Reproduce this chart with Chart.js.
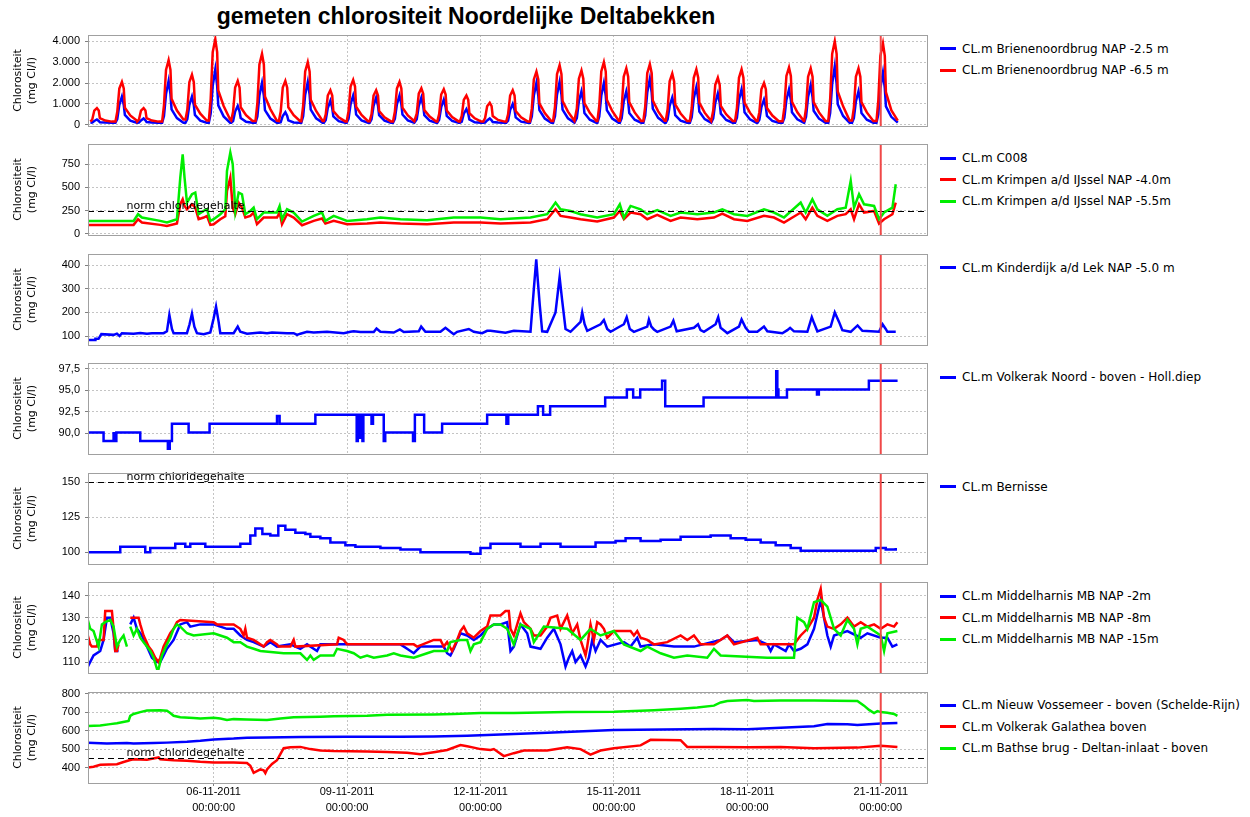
<!DOCTYPE html>
<html>
<head>
<meta charset="utf-8">
<title>gemeten chlorositeit Noordelijke Deltabekken</title>
<script src="https://cdn.jsdelivr.net/npm/chart.js@4.4.1/dist/chart.umd.min.js"></script>
<style>
  html, body { margin: 0; padding: 0; background: #fff; }
  body { width: 1250px; height: 817px; position: relative; overflow: hidden;
         font-family: "DejaVu Sans", sans-serif; color: #000; }
  #title { position: absolute; left: 0; top: 3px; width: 932px; text-align: center;
           font: bold 23px "Liberation Sans", Arial, sans-serif; }
  canvas.panel { position: absolute; left: 0; }
  .legend { position: absolute; left: 940px; font: 12px "DejaVu Sans", sans-serif; }
  .legend .item { height: 21.5px; white-space: nowrap; display: flex; align-items: center; }
  .legend .sw { display: inline-block; width: 16px; height: 3px; margin-right: 6px; }
</style>
</head>
<body>
<div id="title">gemeten chlorositeit Noordelijke Deltabekken</div>

<script>
// ---------- time axis: hours since 03-11-2011 00:00 ----------
const xMinHour = 4.2;
const xMaxHour = 456.7;
const xTickHours = [72, 144, 216, 288, 360, 432];
const xTickDates = ['06-11-2011', '09-11-2011', '12-11-2011', '15-11-2011', '18-11-2011', '21-11-2011'];
const xTickTimes = ['00:00:00', '00:00:00', '00:00:00', '00:00:00', '00:00:00', '00:00:00'];
const nowHour = 432;

// ---------- Brienenoordbrug: one row per tide, [peak hour, values at the tide offsets] ----------
const tideOffsets = [-3.5, -2.5, -1.4, 0, 1.0, 1.6, 4.5, 8];
const brienenoord25Tides = [
  [9.0, 100, 110, 180, 250, 180, 120, 105, 100],
  [22.5, 100, 270, 950, 1350, 950, 470, 200, 100],
  [34.2, 100, 110, 210, 300, 210, 130, 105, 100],
  [47.7, 100, 420, 1470, 2100, 1470, 740, 320, 100],
  [60.3, 100, 270, 950, 1350, 950, 470, 200, 100],
  [72.9, 100, 530, 1860, 2650, 1860, 930, 400, 100],
  [85.0, 100, 180, 630, 900, 630, 320, 140, 100],
  [98.1, 100, 400, 1400, 2000, 1400, 700, 300, 100],
  [110.7, 100, 120, 420, 600, 420, 210, 110, 100],
  [122.8, 100, 410, 1440, 2050, 1440, 720, 310, 100],
  [135.0, 100, 230, 800, 1150, 800, 400, 170, 100],
  [147.3, 100, 280, 980, 1400, 980, 490, 210, 100],
  [159.7, 100, 260, 910, 1300, 910, 460, 200, 100],
  [172.3, 100, 280, 980, 1400, 980, 490, 210, 100],
  [184.1, 100, 260, 910, 1300, 910, 460, 200, 100],
  [196.2, 100, 240, 840, 1200, 840, 420, 180, 100],
  [208.4, 100, 150, 530, 750, 530, 260, 120, 100],
  [221.0, 100, 110, 210, 300, 210, 130, 105, 100],
  [233.4, 100, 200, 700, 1000, 700, 350, 150, 100],
  [246.2, 100, 400, 1400, 2000, 1400, 700, 300, 100],
  [258.7, 100, 410, 1440, 2050, 1440, 720, 310, 100],
  [270.5, 100, 320, 1120, 1600, 1120, 560, 240, 100],
  [282.6, 100, 400, 1400, 2000, 1400, 700, 300, 100],
  [294.7, 100, 320, 1120, 1600, 1120, 560, 240, 100],
  [307.4, 100, 440, 1540, 2200, 1540, 770, 330, 100],
  [319.5, 100, 260, 910, 1300, 910, 460, 200, 100],
  [332.5, 100, 360, 1260, 1800, 1260, 630, 270, 100],
  [344.1, 100, 300, 1050, 1500, 1050, 530, 230, 100],
  [356.9, 100, 340, 1190, 1700, 1190, 600, 260, 100],
  [369.0, 100, 240, 840, 1200, 840, 420, 180, 100],
  [382.5, 100, 340, 1190, 1700, 1190, 600, 260, 100],
  [394.2, 100, 380, 1330, 1900, 1330, 670, 290, 100],
  [407.2, 100, 560, 1960, 2800, 1960, 980, 420, 100],
  [420.0, 100, 320, 1120, 1600, 1120, 560, 240, 100],
  [433.2, 100, 500, 1750, 2500, 1750, 880, 380, 100]
];
const brienenoord65Tides = [
  [9.0, 150, 250, 680, 800, 680, 320, 200, 150],
  [22.5, 150, 620, 1740, 2050, 1740, 820, 450, 200],
  [34.2, 150, 250, 680, 800, 680, 320, 200, 150],
  [47.7, 150, 930, 2630, 3100, 2630, 1240, 680, 250],
  [60.3, 250, 720, 2040, 2400, 2040, 960, 530, 200],
  [72.9, 200, 1230, 3480, 4100, 3480, 1640, 900, 250],
  [85.0, 200, 630, 1780, 2100, 1780, 840, 460, 180],
  [98.1, 180, 1020, 2890, 3400, 2890, 1360, 750, 200],
  [110.7, 180, 630, 1780, 2100, 1780, 840, 460, 170],
  [122.8, 170, 900, 2550, 3000, 2550, 1200, 660, 180],
  [135.0, 180, 500, 1400, 1650, 1400, 660, 360, 160],
  [147.3, 160, 650, 1830, 2150, 1830, 860, 470, 170],
  [159.7, 170, 500, 1400, 1650, 1400, 660, 360, 160],
  [172.3, 160, 620, 1740, 2050, 1740, 820, 450, 170],
  [184.1, 170, 530, 1490, 1750, 1490, 700, 390, 160],
  [196.2, 160, 510, 1450, 1700, 1450, 680, 370, 160],
  [208.4, 160, 420, 1190, 1400, 1190, 560, 310, 150],
  [221.0, 150, 320, 890, 1050, 890, 420, 230, 150],
  [233.4, 150, 500, 1400, 1650, 1400, 660, 360, 160],
  [246.2, 160, 770, 2170, 2550, 2170, 1020, 560, 180],
  [258.7, 180, 860, 2420, 2850, 2420, 1140, 630, 190],
  [270.5, 190, 780, 2210, 2600, 2210, 1040, 570, 180],
  [282.6, 180, 900, 2550, 3000, 2550, 1200, 660, 190],
  [294.7, 190, 810, 2300, 2700, 2300, 1080, 590, 180],
  [307.4, 180, 870, 2470, 2900, 2470, 1160, 640, 190],
  [319.5, 190, 740, 2080, 2450, 2080, 980, 540, 180],
  [332.5, 180, 800, 2250, 2650, 2250, 1060, 580, 180],
  [344.1, 180, 680, 1910, 2250, 1910, 900, 500, 180],
  [356.9, 180, 800, 2250, 2650, 2250, 1060, 580, 180],
  [369.0, 180, 600, 1700, 2000, 1700, 800, 440, 170],
  [382.5, 170, 830, 2340, 2750, 2340, 1100, 600, 180],
  [394.2, 180, 810, 2300, 2700, 2300, 1080, 590, 180],
  [407.2, 180, 1200, 3400, 4000, 3400, 1600, 880, 200],
  [420.0, 200, 810, 2300, 2700, 2300, 1080, 590, 180],
  [433.2, 180, 1170, 3300, 3900, 3300, 1560, 700, 200]
];

// ---------- Krimpen a/d IJssel, C008: [hour, mg Cl/l] ----------
const c008 = [];
const krimpen40 = [
  [4.2, 97], [28.8, 97], [31.2, 158], [33.3, 122], [43.2, 97], [46.8, 86], [52.2, 111], [54.0, 320],
  [55.3, 373], [56.3, 300], [57.6, 265], [60.3, 320], [62.1, 283], [63.9, 158], [66.6, 176], [68.4, 194],
  [70.2, 97], [72.0, 104], [75.6, 158], [78.3, 190], [79.2, 463], [81.0, 606], [82.3, 283], [83.7, 212],
  [85.5, 337], [87.3, 283], [89.1, 176], [91.8, 194], [93.6, 230], [95.4, 104], [99.0, 176], [106.2, 176],
  [107.6, 230], [108.9, 104], [111.6, 212], [115.2, 176], [119.7, 93], [126.0, 140], [130.5, 165], [132.3, 111],
  [136.8, 140], [144.0, 104], [154.8, 111], [162.0, 122], [172.8, 111], [187.2, 104], [201.6, 122], [216.0, 122],
  [226.8, 111], [243.0, 122], [252.0, 158], [256.5, 265], [259.2, 194], [264.6, 176], [270.0, 158], [279.0, 133],
  [288.0, 176], [291.2, 247], [293.4, 158], [297.0, 230], [302.4, 212], [306.0, 158], [311.4, 204], [318.6, 140],
  [324.0, 176], [333.0, 158], [342.0, 176], [346.5, 219], [352.8, 158], [360.0, 140], [369.0, 194], [374.4, 176],
  [379.8, 122], [388.8, 230], [391.5, 158], [395.1, 283], [397.8, 194], [403.2, 140], [408.6, 194], [413.1, 212],
  [415.8, 265], [417.6, 158], [420.3, 320], [423.0, 230], [428.4, 247], [431.1, 111], [433.8, 158], [438.3, 212],
  [440.1, 337]
];
const krimpen55 = [
  [4.2, 140], [28.8, 140], [31.2, 212], [33.3, 176], [43.2, 140], [46.8, 122], [52.2, 158], [54.0, 606],
  [55.3, 857], [56.3, 606], [57.6, 337], [60.3, 427], [62.1, 445], [63.9, 212], [66.6, 247], [68.4, 265],
  [70.2, 140], [72.0, 158], [75.6, 212], [78.3, 265], [79.2, 678], [81.0, 875], [82.3, 750], [83.7, 247],
  [85.5, 445], [87.3, 427], [89.1, 212], [91.8, 247], [93.6, 283], [95.4, 158], [99.0, 230], [106.2, 230],
  [107.6, 301], [108.9, 158], [111.6, 265], [115.2, 230], [119.7, 133], [126.0, 194], [130.5, 230], [132.3, 140],
  [136.8, 194], [144.0, 140], [154.8, 158], [162.0, 176], [172.8, 158], [187.2, 147], [201.6, 176], [216.0, 176],
  [226.8, 158], [243.0, 176], [252.0, 212], [256.5, 337], [259.2, 265], [264.6, 247], [270.0, 212], [279.0, 176],
  [288.0, 212], [291.2, 319], [293.4, 176], [297.0, 301], [302.4, 265], [306.0, 212], [311.4, 255], [318.6, 194],
  [324.0, 230], [333.0, 212], [342.0, 230], [346.5, 265], [352.8, 212], [360.0, 194], [369.0, 265], [374.4, 230],
  [379.8, 176], [388.8, 337], [391.5, 230], [395.1, 373], [397.8, 265], [403.2, 194], [408.6, 265], [413.1, 283],
  [415.8, 570], [417.6, 283], [420.3, 427], [423.0, 319], [428.4, 301], [431.1, 158], [433.8, 230], [438.3, 283],
  [440.1, 534]
];

// ---------- Kinderdijk a/d Lek NAP -5.0 m ----------
const kinderdijk = [
  [4.2, 83], [8.1, 83], [8.2, 88], [9.9, 88], [11.4, 108], [18.0, 105], [19.8, 110], [21.2, 100], [22.5, 112],
  [28.8, 110], [32.4, 113], [36.0, 110], [38.7, 112], [45.0, 112], [46.8, 120], [48.1, 190], [49.5, 130],
  [50.4, 112], [57.6, 112], [59.0, 150], [60.3, 195], [61.6, 140], [63.0, 112], [66.6, 108], [70.2, 115],
  [72.0, 175], [73.3, 225], [74.7, 160], [75.6, 112], [82.8, 112], [85.0, 140], [86.4, 118], [90.0, 110],
  [97.2, 115], [100.8, 112], [103.5, 115], [111.6, 112], [115.2, 112], [117.0, 105], [118.8, 110], [122.4, 118],
  [126.0, 115], [133.2, 118], [142.2, 112], [145.8, 118], [147.6, 120], [151.2, 117], [158.4, 117], [159.9, 132],
  [162.0, 118], [169.2, 115], [172.5, 128], [174.6, 117], [182.7, 120], [184.0, 140], [186.3, 118], [194.4, 118],
  [197.1, 135], [199.8, 118], [201.6, 108], [203.4, 118], [209.7, 130], [212.4, 118], [216.9, 112], [219.6, 122],
  [221.4, 122], [229.5, 114], [234.0, 122], [243.0, 118], [244.8, 300], [246.1, 425], [247.0, 330], [248.0, 230],
  [249.3, 120], [252.0, 118], [256.5, 200], [258.7, 350], [260.1, 250], [261.9, 130], [264.6, 118], [270.0, 160],
  [270.9, 200], [272.2, 150], [273.6, 122], [280.8, 150], [282.6, 168], [284.4, 130], [286.2, 118], [293.4, 150],
  [294.9, 180], [296.6, 130], [298.8, 118], [306.0, 140], [306.9, 170], [308.2, 140], [309.6, 128], [311.4, 118],
  [318.6, 140], [320.1, 165], [321.9, 120], [331.2, 135], [333.4, 150], [334.8, 125], [336.6, 118], [342.9, 150],
  [344.3, 180], [345.6, 135], [348.3, 118], [349.2, 112], [355.5, 140], [356.9, 170], [359.1, 135], [360.9, 118],
  [365.4, 118], [369.0, 140], [370.8, 120], [378.9, 112], [381.6, 125], [383.1, 135], [385.2, 120], [392.4, 118],
  [394.8, 180], [396.0, 155], [397.8, 120], [405.0, 140], [407.2, 200], [409.5, 160], [411.3, 125], [415.8, 118],
  [419.5, 145], [422.1, 122], [431.1, 118], [433.0, 150], [434.7, 130], [435.6, 118], [440.1, 118]
];

// ---------- Volkerak Noord - boven - Holl.diep (each level holds until the next hour listed) ----------
const volkerakNoord = [
  [4.2, 90.1], [12.6, 89.1], [18.0, 90.0], [18.5, 89.1], [19.5, 90.1], [32.4, 89.1], [47.3, 88.2], [48.3, 89.1],
  [49.5, 91.1], [58.5, 90.1], [69.8, 91.1], [106.2, 92.0], [107.6, 91.1], [126.9, 92.15], [149.2, 89.1], [149.8, 92.15],
  [150.9, 89.5], [151.4, 92.15], [152.3, 89.1], [152.8, 92.15], [157.2, 91.1], [158.0, 92.15], [163.8, 89.1], [164.6, 90.1],
  [179.6, 89.1], [180.6, 92.15], [185.6, 90.1], [195.3, 91.1], [219.6, 92.15], [230.0, 91.1], [231.0, 92.15], [247.0, 93.15],
  [249.8, 92.15], [253.6, 93.15], [283.3, 94.15], [295.0, 95.1], [298.4, 94.15], [302.2, 95.1], [314.0, 96.1], [315.7, 93.15],
  [336.4, 94.15], [375.6, 97.2], [376.2, 95.1], [376.8, 94.15], [381.4, 95.1], [397.6, 94.5], [398.6, 95.1], [425.6, 96.1],
  [441.1, 96.1]
];

// ---------- Bernisse ----------
const bernisse = [
  [4.3, 100], [20.5, 100], [21.6, 104], [32.4, 104], [35.1, 100], [37.8, 103], [48.6, 103], [51.3, 106],
  [56.7, 104], [59.4, 106], [67.5, 104], [86.4, 106], [91.8, 112], [94.5, 117], [98.3, 113], [102.6, 112],
  [106.9, 119], [110.7, 116], [116.1, 114], [121.5, 113], [124.2, 111], [129.6, 110], [135.0, 107], [143.1, 105],
  [148.5, 104], [162.0, 103], [172.8, 102], [183.6, 100], [199.8, 100], [210.6, 99], [216.0, 103], [221.4, 106],
  [232.2, 106], [237.6, 104], [248.4, 106], [259.2, 104], [270.0, 104], [278.1, 107], [288.9, 108], [294.3, 110],
  [302.4, 108], [313.2, 109], [324.0, 111], [332.1, 111], [340.2, 112], [351.0, 110], [359.1, 109], [367.2, 107],
  [375.3, 105], [383.4, 103], [388.8, 101], [399.6, 101], [421.2, 101], [429.3, 103], [434.7, 102], [440.1, 103]
];

// ---------- Middelharnis MB ----------
const middelharnis2 = [
  [4.1, 108], [7.2, 113], [10.8, 115], [12.6, 120], [14.4, 130], [16.2, 130], [18.0, 123], [18.9, 115], [20.7, 115],
  [21.5, null], [27.0, 127], [28.8, 130], [30.6, 125], [33.3, 122], [36.0, 117], [38.7, 112], [41.4, 110], [43.2, 110],
  [45.0, 113], [46.8, 116], [50.4, 120], [54.0, 127], [57.6, 128], [59.4, 126], [64.8, 127], [72.0, 127], [75.6, 126],
  [79.2, 125], [82.8, 125], [86.4, 122], [90.0, 120], [93.6, 119], [99.0, 117], [102.6, 119], [106.2, 117], [113.4, 118],
  [118.8, 116], [122.4, 118], [127.8, 115], [129.6, 118], [172.8, 118], [176.4, 116], [180.0, 114], [183.6, 117],
  [196.2, 117], [198.0, 114], [199.8, 113], [201.6, 116], [205.2, 123], [208.8, 122], [212.4, 120], [216.0, 122],
  [219.6, 125], [223.2, 127], [226.8, 127], [230.4, 128], [232.2, 115], [234.0, 117], [237.6, 127], [241.2, 123],
  [243.0, 117], [248.4, 116], [252.0, 121], [255.6, 125], [259.2, 118], [261.9, 108], [263.7, 112], [265.5, 115],
  [267.3, 110], [270.0, 113], [272.7, 108], [274.5, 112], [276.3, 120], [278.1, 115], [280.8, 120], [284.4, 117],
  [293.4, 119], [297.0, 117], [300.6, 121], [302.4, 117], [309.6, 118], [320.4, 117], [331.2, 117], [345.6, 120],
  [349.2, 122], [352.8, 119], [365.4, 120], [370.8, 118], [372.6, 115], [374.4, 118], [380.7, 115], [382.5, 118],
  [385.2, 115], [388.8, 116], [392.4, 118], [396.0, 125], [399.6, 138], [403.2, 122], [405.0, 117], [406.8, 122],
  [414.0, 124], [421.2, 121], [424.8, 123], [432.0, 121], [435.6, 121], [438.3, 117], [441.0, 118]
];
const middelharnis8 = [
  [4.1, 122], [5.4, 118], [6.3, 117], [9.0, 117], [9.9, 120], [12.6, 120], [13.5, 133], [17.1, 133], [18.0, 125],
  [18.9, 115], [19.8, 115], [20.7, 118], [21.5, null], [27.0, 130], [31.5, 130], [32.4, 127], [34.2, 122], [36.9, 117],
  [38.7, 115], [40.5, 112], [42.3, 110], [43.2, 112], [45.0, 117], [46.8, 120], [48.6, 123], [50.4, 125], [52.2, 128],
  [54.0, 129], [72.0, 128], [73.8, 127], [82.8, 127], [86.4, 125], [88.2, 122], [89.1, 125], [90.0, 121], [93.6, 120],
  [95.4, 119], [99.0, 117], [100.8, 119], [102.6, 120], [106.2, 118], [107.1, 117], [113.4, 117], [115.2, 120],
  [116.1, 117], [138.6, 118], [139.5, 121], [142.2, 120], [144.0, 118], [180.0, 118], [181.8, 117], [190.8, 120],
  [194.4, 120], [196.2, 117], [198.0, 119], [200.7, 115], [203.4, 120], [205.2, 124], [207.0, 126], [208.8, 123],
  [212.4, 121], [216.0, 124], [219.6, 126], [221.4, 131], [226.8, 131], [229.5, 133], [231.3, 133], [232.2, 125],
  [234.0, 122], [237.6, 132], [239.4, 128], [243.0, 125], [244.8, 122], [248.4, 122], [252.0, 126], [253.8, 130],
  [257.4, 131], [259.2, 125], [262.8, 131], [265.5, 123], [268.2, 127], [270.0, 120], [272.7, 113], [273.6, 117],
  [275.4, 127], [277.2, 120], [279.0, 128], [280.8, 127], [282.6, 125], [284.4, 121], [288.0, 124], [297.0, 124],
  [298.8, 122], [300.6, 124], [302.4, 121], [306.0, 120], [309.6, 118], [316.8, 119], [324.0, 122], [327.6, 120],
  [331.2, 122], [334.8, 118], [342.0, 118], [349.2, 122], [351.0, 120], [352.8, 118], [365.4, 121], [367.2, 118],
  [385.2, 118], [388.8, 122], [392.4, 125], [396.0, 130], [397.8, 138], [399.6, 143], [401.4, 130], [403.2, 126],
  [406.8, 125], [410.4, 127], [414.0, 130], [417.6, 126], [421.2, 128], [424.8, 126], [428.4, 127], [432.0, 125],
  [435.6, 127], [439.2, 126], [441.0, 128]
];
const middelharnis15 = [
  [4.1, 129], [5.4, 125], [7.2, 124], [9.9, 117], [11.7, 127], [13.5, 128], [16.2, 129], [18.0, 126], [19.8, 117],
  [21.6, 120], [23.4, 122], [25.2, 117], [25.8, null], [27.0, 126], [28.8, 122], [30.6, 125], [32.4, 121], [34.2, 119],
  [36.0, 117], [37.8, 115], [39.6, 112], [41.4, 107], [42.3, 107], [44.1, 113], [46.8, 118], [48.6, 121], [50.4, 125],
  [52.2, 127], [54.0, 126], [57.6, 123], [61.2, 122], [72.0, 123], [75.6, 122], [79.2, 121], [82.8, 119], [86.4, 119],
  [90.0, 117], [93.6, 116], [97.2, 115], [109.8, 114], [118.8, 114], [122.4, 111], [124.2, 113], [126.0, 111],
  [129.6, 113], [136.8, 113], [138.6, 116], [144.0, 115], [147.6, 114], [151.2, 112], [154.8, 113], [158.4, 112],
  [165.6, 113], [169.2, 114], [172.8, 113], [180.0, 112], [187.2, 114], [190.8, 115], [198.0, 115], [199.8, 119],
  [205.2, 120], [208.8, 120], [210.6, 115], [212.4, 118], [216.0, 119], [219.6, 125], [223.2, 127], [226.8, 127],
  [230.4, 125], [234.0, 118], [237.6, 127], [243.0, 125], [244.8, 119], [250.2, 126], [262.8, 125], [270.0, 120],
  [275.4, 125], [280.8, 122], [288.0, 124], [293.4, 118], [302.4, 115], [306.0, 117], [313.2, 114], [320.4, 112],
  [327.6, 113], [338.4, 112], [342.0, 116], [345.6, 113], [370.8, 112], [385.2, 112], [387.0, 130], [390.6, 128],
  [392.4, 125], [396.0, 137], [399.6, 138], [403.2, 135], [406.8, 125], [410.4, 122], [414.0, 129], [417.6, 125],
  [419.4, 118], [421.2, 125], [424.8, 126], [428.4, 124], [432.0, 122], [433.8, 115], [435.6, 123], [441.0, 124]
];

// ---------- Nieuw Vossemeer, Volkerak Galathea, Bathse brug ----------
const nieuwVossemeer = [
  [4.1, 535], [14.4, 530], [25.2, 533], [28.8, 530], [39.6, 533], [46.8, 535], [57.6, 540], [64.8, 545], [72.0, 552],
  [82.8, 557], [90.0, 562], [100.8, 563], [118.8, 566], [144.0, 567], [172.8, 567], [190.8, 568], [208.8, 572],
  [216.0, 575], [252.0, 589], [288.0, 603], [342.0, 608], [360.0, 607], [378.0, 615], [396.0, 623], [403.2, 636],
  [414.0, 634], [419.4, 630], [432.0, 638], [441.0, 641]
];
const volkerakGalathea = [
  [4.1, 400], [7.2, 405], [10.8, 415], [19.8, 418], [23.4, 430], [27.0, 441], [28.8, 445], [36.0, 443], [42.3, 455],
  [43.2, 445], [50.4, 440], [57.6, 437], [64.8, 431], [72.0, 428], [82.8, 427], [90.0, 425], [91.8, 410], [93.6, 372],
  [97.2, 390], [99.0, 385], [99.9, 370], [100.8, 390], [103.5, 420], [106.2, 440], [109.8, 505], [113.4, 510],
  [118.8, 512], [124.2, 500], [129.6, 493], [136.8, 490], [154.8, 487], [165.6, 485], [176.4, 480], [183.6, 472],
  [190.8, 483], [198.0, 495], [205.2, 522], [208.8, 515], [212.4, 508], [216.0, 500], [221.4, 495], [223.2, 500],
  [228.6, 462], [234.0, 478], [239.4, 492], [252.0, 492], [262.8, 510], [270.0, 500], [275.4, 470], [280.8, 492],
  [288.0, 505], [302.4, 520], [307.8, 550], [324.0, 548], [327.6, 512], [342.0, 512], [360.0, 510], [378.0, 512],
  [396.0, 505], [419.4, 508], [432.0, 518], [441.0, 512]
];
const bathseBrug = [
  [4.1, 625], [10.8, 627], [16.2, 635], [19.8, 640], [25.2, 650], [26.1, 652], [27.0, 680], [28.8, 690], [32.4, 700],
  [36.0, 708], [43.2, 710], [46.8, 707], [48.6, 695], [50.4, 680], [54.0, 672], [61.2, 668], [64.8, 665], [72.0, 670],
  [75.6, 665], [79.2, 657], [82.8, 662], [90.0, 660], [100.8, 657], [108.0, 665], [115.2, 672], [129.6, 675],
  [136.8, 678], [154.8, 680], [165.6, 685], [190.8, 687], [201.6, 690], [216.0, 695], [234.0, 695], [262.8, 700],
  [288.0, 702], [309.6, 710], [324.0, 718], [333.0, 725], [342.0, 735], [345.6, 752], [349.2, 760], [360.0, 765],
  [363.6, 760], [378.0, 763], [396.0, 762], [419.4, 760], [423.0, 735], [425.7, 712], [428.4, 695], [430.2, 705],
  [432.0, 700], [435.6, 697], [439.2, 690], [441.0, 680]
];

// ---------- y axes ----------
const p1YTicks = [0, 1000, 2000, 3000, 4000];
const p1YLabels = ['0', '1.000', '2.000', '3.000', '4.000'];
const p2YTicks = [0, 250, 500, 750];
const p2YLabels = ['0', '250', '500', '750'];
const p3YTicks = [100, 200, 300, 400];
const p3YLabels = ['100', '200', '300', '400'];
const p4YTicks = [90, 92.5, 95, 97.5];
const p4YLabels = ['90,0', '92,5', '95,0', '97,5'];
const p5YTicks = [100, 125, 150];
const p5YLabels = ['100', '125', '150'];
const p6YTicks = [110, 120, 130, 140];
const p6YLabels = ['110', '120', '130', '140'];
const p7YTicks = [400, 500, 600, 700, 800];
const p7YLabels = ['400', '500', '600', '700', '800'];

const normLabel = 'norm chloridegehalte';
const yTitle = ['Chlorositeit', '(mg Cl/l)'];
const BLUE = '#0000ff', RED = '#ff0000', GREEN = '#00ee00';

function fromTides(rows) {
  const pts = [];
  rows.forEach(r => tideOffsets.forEach((o, i) => pts.push([r[0] + o, r[i + 1]])));
  return pts;
}

const panels = [
  { yMin: -60, yMax: 4300, ticks: p1YTicks, labels: p1YLabels,
    series: [
      { label: 'CL.m Brienenoordbrug NAP -2.5 m', color: BLUE, data: fromTides(brienenoord25Tides), order: 2 },
      { label: 'CL.m Brienenoordbrug NAP -6.5 m', color: RED, data: fromTides(brienenoord65Tides), order: 1 } ] },
  { yMin: -12, yMax: 968, ticks: p2YTicks, labels: p2YLabels, norm: 250,
    series: [
      { label: 'CL.m C008', color: BLUE, data: c008, order: 2 },
      { label: 'CL.m Krimpen a/d IJssel NAP -4.0m', color: RED, data: krimpen40, order: 1 },
      { label: 'CL.m Krimpen a/d IJssel NAP -5.5m', color: GREEN, data: krimpen55, order: 0 } ] },
  { yMin: 62, yMax: 448, ticks: p3YTicks, labels: p3YLabels,
    series: [
      { label: 'CL.m Kinderdijk a/d Lek NAP -5.0 m', color: BLUE, data: kinderdijk, order: 0 } ] },
  { yMin: 87.6, yMax: 98.17, ticks: p4YTicks, labels: p4YLabels, stepped: 'before',
    series: [
      { label: 'CL.m Volkerak Noord - boven - Holl.diep', color: BLUE, data: volkerakNoord, order: 0 } ] },
  { yMin: 91.6, yMax: 156.6, ticks: p5YTicks, labels: p5YLabels, norm: 150, stepped: 'before',
    series: [
      { label: 'CL.m Bernisse', color: BLUE, data: bernisse, order: 0 } ] },
  { yMin: 105.1, yMax: 146.1, ticks: p6YTicks, labels: p6YLabels,
    series: [
      { label: 'CL.m Middelharnis MB NAP -2m', color: BLUE, data: middelharnis2, order: 2 },
      { label: 'CL.m Middelharnis MB NAP -8m', color: RED, data: middelharnis8, order: 1 },
      { label: 'CL.m Middelharnis MB NAP -15m', color: GREEN, data: middelharnis15, order: 0 } ] },
  { yMin: 316.8, yMax: 808.6, ticks: p7YTicks, labels: p7YLabels, norm: 450, showX: true,
    series: [
      { label: 'CL.m Nieuw Vossemeer - boven (Schelde-Rijn)', color: BLUE, data: nieuwVossemeer, order: 2 },
      { label: 'CL.m Volkerak Galathea boven', color: RED, data: volkerakGalathea, order: 1 },
      { label: 'CL.m Bathse brug - Deltan-inlaat - boven', color: GREEN, data: bathseBrug, order: 0 } ] }
];

// ---------- layout ----------
const AREA_TOP = 35, AREA_STEP = 109.45, AREA_H = 91, PAD = 12, AXIS_W = 88, CANVAS_W = 930;
const TICK_FONT = "'Liberation Sans', Arial, sans-serif";
const TEXT_FONT = "'DejaVu Sans', sans-serif";

// plot frame, norm line with its label and the "now" marker
const overlayPlugin = {
  id: 'overlay',
  afterDatasetsDraw(chart, args, opts) {
    const { ctx, chartArea: a, scales: { x, y } } = chart;
    ctx.save();
    if (opts.norm !== undefined) {
      const yy = Math.round(y.getPixelForValue(opts.norm)) + 0.5;
      ctx.strokeStyle = '#000'; ctx.lineWidth = 1.2; ctx.setLineDash([6, 4]);
      ctx.beginPath(); ctx.moveTo(a.left, yy); ctx.lineTo(a.right, yy); ctx.stroke();
      ctx.setLineDash([]);
      ctx.fillStyle = '#000'; ctx.font = '11px ' + TEXT_FONT; ctx.textBaseline = 'bottom';
      ctx.fillText(normLabel, x.getPixelForValue(25), yy);
    }
    const nx = x.getPixelForValue(nowHour);
    ctx.strokeStyle = '#f04848'; ctx.lineWidth = 2;
    ctx.beginPath(); ctx.moveTo(nx, a.top); ctx.lineTo(nx, a.bottom); ctx.stroke();
    ctx.strokeStyle = '#a0a0a0'; ctx.lineWidth = 1;
    ctx.strokeRect(Math.round(a.left) + 0.5, Math.round(a.top) + 0.5,
                   Math.round(a.right - a.left), Math.round(a.bottom - a.top));
    ctx.restore();
  }
};

panels.forEach((p, i) => {
  const areaTop = AREA_TOP + i * AREA_STEP;
  const axisH = p.showX ? 36 : 0;
  const canvas = document.createElement('canvas');
  canvas.className = 'panel';
  canvas.width = CANVAS_W;
  canvas.height = Math.round(PAD + AREA_H + (p.showX ? axisH : PAD));
  canvas.style.top = (areaTop - PAD) + 'px';
  document.body.appendChild(canvas);

  // legend
  const leg = document.createElement('div');
  leg.className = 'legend';
  leg.style.top = (areaTop + 3) + 'px';
  p.series.forEach(s => {
    const it = document.createElement('div');
    it.className = 'item';
    const sw = document.createElement('span');
    sw.className = 'sw'; sw.style.background = s.color;
    it.appendChild(sw);
    it.appendChild(document.createTextNode(s.label));
    leg.appendChild(it);
  });
  document.body.appendChild(leg);

  new Chart(canvas, {
    type: 'line',
    data: {
      datasets: p.series.map(s => ({
        label: s.label,
        data: s.data.map(([h, v]) => ({ x: h, y: v })),
        borderColor: s.color,
        backgroundColor: s.color,
        borderWidth: 2.5,
        pointRadius: 0,
        tension: 0,
        fill: false,
        spanGaps: false,
        stepped: p.stepped || false,
        order: s.order
      }))
    },
    options: {
      responsive: false,
      animation: false,
      events: [],
      layout: { padding: { top: PAD, bottom: p.showX ? 0 : PAD, left: 0, right: CANVAS_W - 926.5 } },
      plugins: { legend: { display: false }, tooltip: { enabled: false }, overlay: { norm: p.norm } },
      scales: {
        x: {
          type: 'linear', min: xMinHour, max: xMaxHour,
          afterBuildTicks: s => { s.ticks = xTickHours.map(v => ({ value: v })); },
          afterFit: s => { s.height = axisH; },
          ticks: {
            display: !!p.showX, autoSkip: false, maxRotation: 0, minRotation: 0, padding: -2,
            color: '#000', font: { family: TICK_FONT, size: 11, lineHeight: 1.45 },
            callback: (v, idx) => [xTickDates[idx], xTickTimes[idx]]
          },
          grid: { color: '#c4c4c4', lineWidth: 1, drawTicks: !!p.showX, tickLength: 3,
                  tickColor: '#808080', tickBorderDash: [] },
          border: { display: false, dash: [2, 2] }
        },
        y: {
          min: p.yMin, max: p.yMax,
          afterBuildTicks: s => { s.ticks = p.ticks.map(v => ({ value: v })); },
          afterFit: s => { s.width = AXIS_W; },
          ticks: {
            padding: 5, color: '#000', font: { family: TICK_FONT, size: 11 },
            callback: (v, idx) => p.labels[idx]
          },
          title: {
            display: true, text: yTitle, color: '#000',
            font: { family: TEXT_FONT, size: 11, lineHeight: 1.3 }, padding: { top: 11, bottom: 0 }
          },
          grid: { color: '#c4c4c4', lineWidth: 1, drawTicks: true, tickLength: 3,
                  tickColor: '#808080', tickBorderDash: [] },
          border: { display: false, dash: [2, 2] }
        }
      }
    },
    plugins: [overlayPlugin]
  });
});
</script>
</body>
</html>
